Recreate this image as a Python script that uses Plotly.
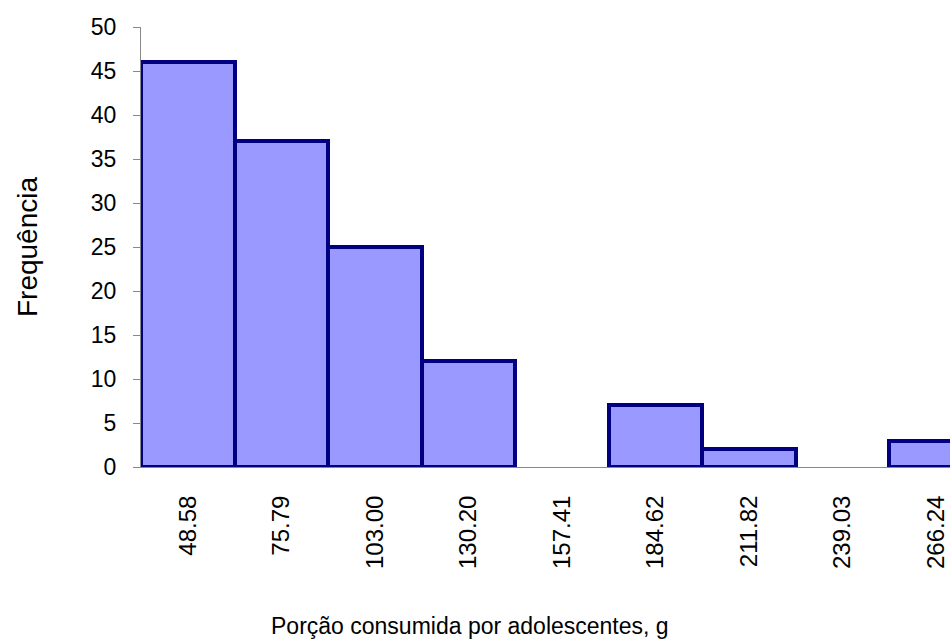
import plotly.graph_objects as go

classes = ["48.58", "75.79", "103.00", "130.20", "157.41",
           "184.62", "211.82", "239.03", "266.24"]
frequencia = [46, 37, 25, 12, 0, 7, 2, 0, 3]
y_ticks = list(range(0, 51, 5))

FONT = "Liberation Sans, Arial, sans-serif"

# empty classes get no outline, so the grey axis line shows through
outline_w = [4 if v > 0 else 0 for v in frequencia]

fig = go.Figure(go.Bar(
    x=classes,
    y=frequencia,
    marker=dict(color="#9999FF", line=dict(color="#000080", width=outline_w)),
    hoverinfo="x+y",
))

fig.update_layout(
    width=950, height=644,
    paper_bgcolor="white",
    plot_bgcolor="white",
    font=dict(family=FONT, color="black", size=23),
    bargap=0,
    showlegend=False,
    margin=dict(t=27, l=141, r=0, b=177),
)
fig.update_xaxes(
    type="category",
    range=[-0.5, 8.15],
    tickangle=-90,
    showgrid=False,
    showline=True, linecolor="#888888", linewidth=1,
    ticks="", ticklabelstandoff=18,
    tickfont=dict(size=24),
)
fig.update_yaxes(
    range=[0, 50],
    tickvals=y_ticks,
    showgrid=False, zeroline=False,
    showline=True, linecolor="#888888", linewidth=1,
    ticks="outside", ticklen=7, tickcolor="#888888",
    ticklabelstandoff=12,
    tickfont=dict(size=23),
    title=dict(text="Frequência", font=dict(size=28), standoff=45),
)

# x title sits left of the plot centre in the original (chart was cropped on the right)
fig.add_annotation(
    text="Porção consumida por adolescentes, g",
    xref="paper", yref="paper", x=0.4067, y=-0.362,
    xanchor="center", yanchor="middle", showarrow=False,
    font=dict(size=23),
)

# page body has an 8px default margin; drop it so the chart sits at 0,0
fig.write_html("out.html", config={"displayModeBar": False},
               post_script="document.body.style.margin='0';")
